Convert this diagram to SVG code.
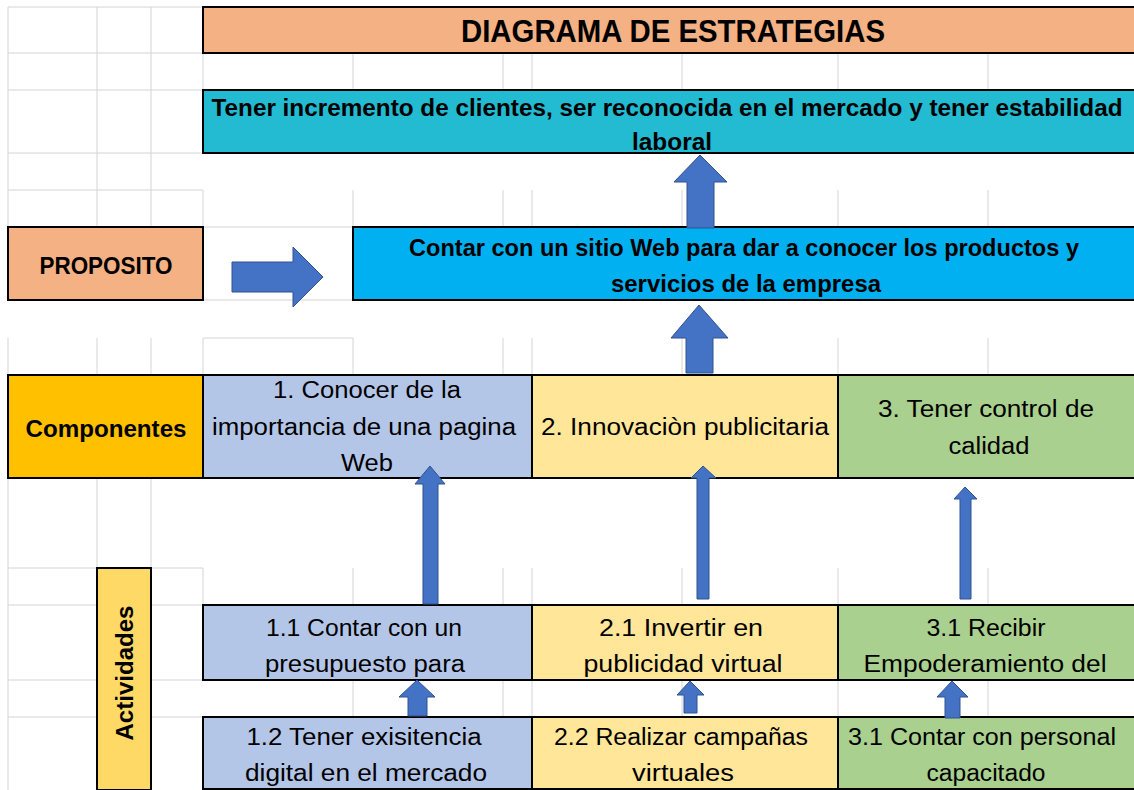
<svg xmlns="http://www.w3.org/2000/svg" width="1134" height="790" viewBox="0 0 1134 790">
<style>
.g{stroke:#D4D4D4;stroke-width:1;fill:none}
.box{stroke:#000;stroke-width:2}
.t{font-family:"Liberation Sans",Arial,sans-serif;font-size:23px;fill:#000;text-anchor:middle}
.b{font-family:"Liberation Sans",Arial,sans-serif;font-weight:bold;fill:#000;text-anchor:middle}
.arr{fill:#4472C4;stroke:#2F528F;stroke-width:1}
</style>
<rect x="0" y="0" width="1134" height="790" fill="#fff"/>
<g id="grid" class="g">
<path d="M8 7V227M97 7V227M151 7V227M8 7H203M8 53H203M8 90H203M8 153H203M8 190H203"/>
<path d="M203 53V90M353 53V90M503 53V90M532 53V90M682 53V90M838 53V90M988 53V90"/>
<path d="M203 190V227M353 190V227M503 190V227M532 190V227M682 190V227M838 190V227M988 190V227"/>
<path d="M203 227H353M203 300H353"/>
<path d="M8 338V375M97 338V375M151 338V375M203 338V375M353 338V375M503 338V375M532 338V375M682 338V375M838 338V375M988 338V375M203 338H353"/>
<path d="M8 478V790M97 478V568M151 478V568M8 568H203"/>
<path d="M203 568V605M353 568V605M503 568V605M532 568V605M682 568V605M838 568V605M988 568V605"/>
<path d="M8 605H97M151 605H203M8 680H97M151 680H203M8 717H97M151 717H203"/>
<path d="M353 680V717M503 680V717M532 680V717M682 680V717M838 680V717M988 680V717"/>
</g>
<g id="title">
<rect class="box" x="203" y="7" width="940" height="46" fill="#F4B183"/>
<text class="b" x="673" y="42" font-size="31" textLength="424" lengthAdjust="spacingAndGlyphs">DIAGRAMA DE ESTRATEGIAS</text>
</g>
<g id="fin">
<rect class="box" x="203" y="90" width="940" height="63" fill="#22BBD2"/>
<text class="b" x="667" y="116" font-size="24" textLength="911" lengthAdjust="spacingAndGlyphs">Tener incremento de clientes, ser reconocida en el mercado y tener estabilidad</text>
<text class="b" x="672" y="150" font-size="24" textLength="80" lengthAdjust="spacingAndGlyphs">laboral</text>
</g>
<g id="proposito-label">
<rect class="box" x="8" y="227" width="195" height="73" fill="#F4B183"/>
<text class="b" x="106" y="274" font-size="23" textLength="133" lengthAdjust="spacingAndGlyphs">PROPOSITO</text>
</g>
<g id="proposito">
<rect class="box" x="353" y="227" width="790" height="73" fill="#00B0F0"/>
<text class="b" x="744" y="256" font-size="24" textLength="670" lengthAdjust="spacingAndGlyphs">Contar con un sitio Web para dar a conocer los productos y</text>
<text class="b" x="746" y="292" font-size="24" textLength="270" lengthAdjust="spacingAndGlyphs">servicios de la empresa</text>
</g>
<g id="componentes-label">
<rect class="box" x="8" y="375" width="195" height="103" fill="#FFC000"/>
<text class="b" x="106" y="437" font-size="23" textLength="161" lengthAdjust="spacingAndGlyphs">Componentes</text>
</g>
<g id="comp1">
<rect class="box" x="203" y="375" width="329" height="103" fill="#B4C6E7"/>
<text class="t" x="367" y="398" textLength="188" lengthAdjust="spacingAndGlyphs">1. Conocer de la</text>
<text class="t" x="364" y="435" textLength="304" lengthAdjust="spacingAndGlyphs">importancia de una pagina</text>
<text class="t" x="367" y="471" textLength="52" lengthAdjust="spacingAndGlyphs">Web</text>
</g>
<g id="comp2">
<rect class="box" x="532" y="375" width="306" height="103" fill="#FFE699"/>
<text class="t" x="685" y="435" textLength="288" lengthAdjust="spacingAndGlyphs">2. Innovaciòn publicitaria</text>
</g>
<g id="comp3">
<rect class="box" x="838" y="375" width="305" height="103" fill="#A9D08E"/>
<text class="t" x="986" y="417" textLength="216" lengthAdjust="spacingAndGlyphs">3. Tener control de</text>
<text class="t" x="989" y="454" textLength="81" lengthAdjust="spacingAndGlyphs">calidad</text>
</g>
<g id="actividades-label">
<rect class="box" x="97" y="568" width="54" height="222" fill="#FFD966"/>
<text class="b" x="0" y="0" font-size="24" textLength="135" lengthAdjust="spacingAndGlyphs" transform="translate(133 673) rotate(-90)">Actividades</text>
</g>
<g id="act11">
<rect class="box" x="203" y="605" width="329" height="75" fill="#B4C6E7"/>
<text class="t" x="364" y="636" textLength="196" lengthAdjust="spacingAndGlyphs">1.1 Contar con un</text>
<text class="t" x="365" y="672" textLength="200" lengthAdjust="spacingAndGlyphs">presupuesto para</text>
</g>
<g id="act21">
<rect class="box" x="532" y="605" width="306" height="75" fill="#FFE699"/>
<text class="t" x="681" y="636" textLength="164" lengthAdjust="spacingAndGlyphs">2.1  Invertir en</text>
<text class="t" x="683" y="672" textLength="199" lengthAdjust="spacingAndGlyphs">publicidad virtual</text>
</g>
<g id="act31">
<rect class="box" x="838" y="605" width="305" height="75" fill="#A9D08E"/>
<text class="t" x="986" y="636" textLength="119" lengthAdjust="spacingAndGlyphs">3.1 Recibir</text>
<text class="t" x="985" y="672" textLength="243" lengthAdjust="spacingAndGlyphs">Empoderamiento del</text>
</g>
<g id="act12">
<rect class="box" x="203" y="717" width="329" height="72" fill="#B4C6E7"/>
<text class="t" x="364" y="745" textLength="235" lengthAdjust="spacingAndGlyphs">1.2 Tener exisitencia</text>
<text class="t" x="366" y="781" textLength="242" lengthAdjust="spacingAndGlyphs">digital en el mercado</text>
</g>
<g id="act22">
<rect class="box" x="532" y="717" width="306" height="72" fill="#FFE699"/>
<text class="t" x="681" y="745" textLength="254" lengthAdjust="spacingAndGlyphs">2.2  Realizar campañas</text>
<text class="t" x="683" y="781" textLength="102" lengthAdjust="spacingAndGlyphs">virtuales</text>
</g>
<g id="act32">
<rect class="box" x="838" y="717" width="305" height="72" fill="#A9D08E"/>
<text class="t" x="982" y="745" textLength="268" lengthAdjust="spacingAndGlyphs">3.1 Contar con personal</text>
<text class="t" x="986" y="781" textLength="119" lengthAdjust="spacingAndGlyphs">capacitado</text>
</g>
<g id="connectors">
<polygon class="arr" points="700,155 727,182 714,182 714,228 687,228 687,182 674,182"/>
<polygon class="arr" points="699,305 728,338 713,338 713,373 686,373 686,338 671,338"/>
<polygon class="arr" points="232,262 293,262 293,247 323,277 293,307 293,292 232,292"/>
<polygon class="arr" points="430,466 445,484 438,484 438,604 423,604 423,484 415,484"/>
<polygon class="arr" points="703,466 716,478 709,478 709,599 697,599 697,478 691,478"/>
<polygon class="arr" points="965,487 977,499 971,499 971,599 960,599 960,499 954,499"/>
<polygon class="arr" points="417,680 435,697 427,697 427,716 408,716 408,697 399,697"/>
<polygon class="arr" points="690,681 704,695 697,695 697,713 684,713 684,695 677,695"/>
<polygon class="arr" points="952,681 968,697 960,697 960,718 945,718 945,697 937,697"/>
</g>
</svg>
